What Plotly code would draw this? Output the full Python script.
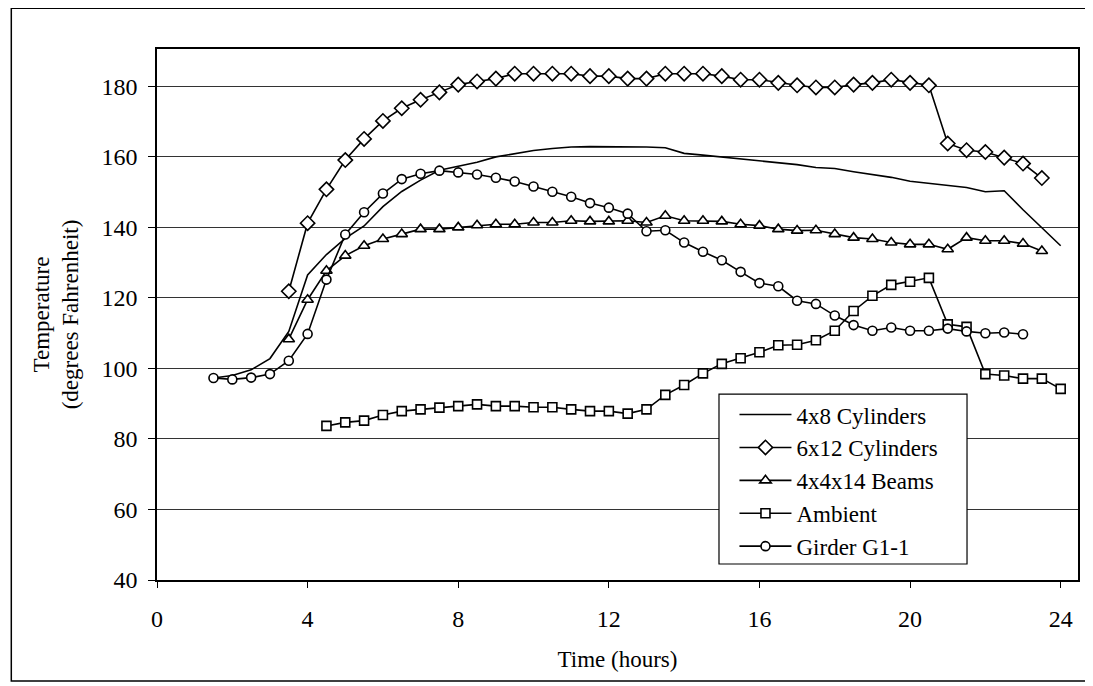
import plotly.graph_objects as go

# Time axis (hours), sampled every half hour
hours = [1.5, 2.0, 2.5, 3.0, 3.5, 4.0, 4.5, 5.0, 5.5, 6.0,
         6.5, 7.0, 7.5, 8.0, 8.5, 9.0, 9.5, 10.0, 10.5, 11.0,
         11.5, 12.0, 12.5, 13.0, 13.5, 14.0, 14.5, 15.0, 15.5, 16.0,
         16.5, 17.0, 17.5, 18.0, 18.5, 19.0, 19.5, 20.0, 20.5, 21.0,
         21.5, 22.0, 22.5, 23.0, 23.5, 24.0]

# 4x8 Cylinders: 1.5 .. 24.0
cyl_4x8 = [97.3, 98.0, 99.6, 102.8, 110.5, 126.5, 132.3, 136.9, 140.4, 145.9,
           150.2, 153.4, 156.2, 157.4, 158.5, 160.0, 161.0, 161.8, 162.4, 162.8,
           162.9, 162.9, 162.9, 162.8, 162.6, 161.0, 160.5, 160.0, 159.4, 158.9,
           158.4, 157.8, 157.0, 156.7, 155.8, 155.1, 154.2, 153.1, 152.5, 152.1,
           151.3, 150.1, 150.4, 145.0, 140.0, 134.8]

# 6x12 Cylinders: 3.5 .. 23.5
cyl_6x12 = [121.9, 141.2, 150.8, 159.1, 165.1, 170.2, 173.8, 176.2, 178.3, 180.5,
            181.4, 182.2, 183.6, 183.6, 183.6, 183.6, 182.9, 182.9, 182.2, 182.2,
            183.6, 183.6, 183.6, 182.9, 181.9, 181.9, 181.0, 180.3, 179.7, 179.7,
            180.5, 181.0, 181.9, 181.0, 180.3, 163.8, 161.9, 161.4, 159.8, 158.1,
            154.0]

# 4x4x14 Beams: 3.5 .. 23.5
beams = [108.3, 119.5, 127.7, 132.0, 134.8, 136.7, 138.1, 139.5, 139.5, 140.0,
         140.6, 140.9, 140.9, 141.4, 141.4, 141.9, 141.7, 141.7, 141.9, 141.4,
         143.3, 141.9, 141.9, 141.7, 140.9, 140.5, 139.5, 139.1, 139.2, 138.1,
         137.1, 136.7, 135.7, 135.2, 135.2, 133.8, 137.1, 136.2, 136.2, 135.4,
         133.3]

# Ambient: 4.5 .. 24.0
ambient = [83.7, 84.7, 85.2, 86.8, 87.9, 88.4, 88.9, 89.3, 89.8, 89.3,
           89.3, 89.0, 89.0, 88.4, 87.9, 87.9, 87.2, 88.4, 92.5, 95.3,
           98.6, 101.3, 102.9, 104.6, 106.6, 106.7, 108.0, 110.7, 116.3, 120.6,
           123.7, 124.6, 125.7, 112.5, 111.8, 98.4, 98.0, 97.1, 97.1, 94.2]

# Girder G1-1: 1.5 .. 23.0
girder = [97.3, 96.9, 97.4, 98.4, 102.2, 109.8, 125.2, 138.0, 144.3, 149.6,
          153.7, 155.2, 156.1, 155.6, 155.0, 154.1, 153.0, 151.6, 150.1, 148.7,
          146.9, 145.6, 143.9, 138.9, 139.2, 135.7, 133.1, 130.7, 127.4, 124.2,
          123.3, 119.2, 118.3, 115.0, 112.3, 110.7, 111.6, 110.7, 110.7, 111.3,
          110.5, 110.0, 110.2, 109.7]

x_ticks = [0, 4, 8, 12, 16, 20, 24]
y_ticks = [40, 60, 80, 100, 120, 140, 160, 180]

FONT = "Liberation Serif, Times New Roman, serif"


def span(start, n):
    i = hours.index(start)
    return hours[i:i + n]


fig = go.Figure()

fig.add_trace(go.Scatter(
    x=hours, y=cyl_4x8, mode="lines", name="4x8 Cylinders",
    line=dict(color="black", width=1.6)))


def mk(symbol, size):
    return dict(symbol=symbol, color="white", size=size,
                line=dict(color="black", width=1.6))


fig.add_trace(go.Scatter(
    x=span(3.5, len(cyl_6x12)), y=cyl_6x12, mode="lines+markers",
    name="6x12 Cylinders", line=dict(color="black", width=1.6),
    marker=mk("diamond", 11)))

fig.add_trace(go.Scatter(
    x=span(3.5, len(beams)), y=beams, mode="lines+markers",
    name="4x4x14 Beams", line=dict(color="black", width=1.6),
    marker=mk("triangle-up", 10)))

fig.add_trace(go.Scatter(
    x=span(4.5, len(ambient)), y=ambient, mode="lines+markers",
    name="Ambient", line=dict(color="black", width=1.6),
    marker=mk("square", 9)))

fig.add_trace(go.Scatter(
    x=span(1.5, len(girder)), y=girder, mode="lines+markers",
    name="Girder G1-1", line=dict(color="black", width=1.6),
    marker=mk("circle", 9)))

fig.update_layout(
    width=1085, height=678,
    margin=dict(l=149, r=15, t=41, b=106),
    paper_bgcolor="white", plot_bgcolor="white",
    font=dict(family=FONT, size=24, color="black"),
    showlegend=True,
    legend=dict(
        x=0.627, y=0.352, xanchor="left", yanchor="top",
        bgcolor="rgba(0,0,0,0)", borderwidth=0,
        font=dict(family=FONT, size=23, color="black"),
        itemwidth=52, tracegroupgap=0,
    ),
    xaxis=dict(
        range=[0, 24.46], tickvals=x_ticks, ticktext=[str(v) for v in x_ticks],
        showgrid=False, zeroline=False,
        showline=True, linecolor="black", linewidth=1.5, mirror=True,
        ticks="outside", ticklen=6, tickcolor="black", tickwidth=1.2,
        ticklabelstandoff=10,
        tickfont=dict(family=FONT, size=24),
        title=dict(text="Time (hours)", font=dict(family=FONT, size=23), standoff=20),
    ),
    yaxis=dict(
        range=[40, 190.6], tickvals=y_ticks, ticktext=[str(v) for v in y_ticks],
        showgrid=True, gridcolor="#333333", gridwidth=1,
        zeroline=False,
        showline=True, linecolor="black", linewidth=1.5, mirror=True,
        ticks="outside", ticklen=7, tickcolor="black", tickwidth=1.2,
        ticklabelstandoff=6,
        tickfont=dict(family=FONT, size=24),
        title=dict(text="Temperature<br>(degrees Fahrenheit)",
                   font=dict(family=FONT, size=23), standoff=16),
    ),
    shapes=[
        dict(type="rect", xref="paper", yref="paper",
             x0=-0.1582, x1=1.009, y0=-0.1903, y1=1.0769,
             line=dict(color="black", width=1.5), fillcolor="rgba(0,0,0,0)",
             layer="below"),
        # legend frame (white box behind the legend entries)
        dict(type="rect", xref="paper", yref="paper",
             x0=0.6102, x1=0.8795, y0=0.0301, y1=0.3499,
             line=dict(color="black", width=1.2), fillcolor="white",
             layer="above"),
    ],
)

fig.write_html("out.html")
